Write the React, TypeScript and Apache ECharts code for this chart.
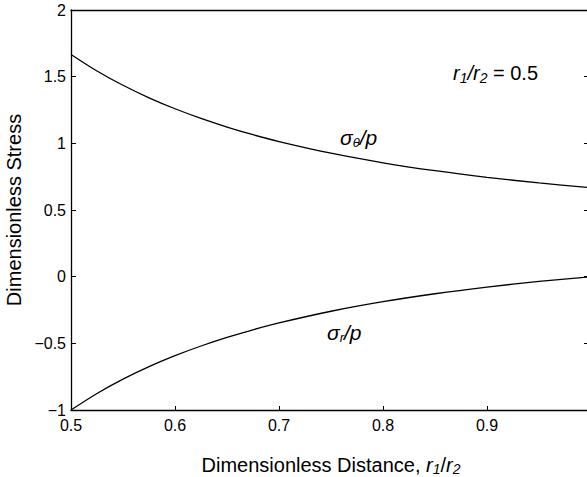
import React, { useEffect, useRef } from "react";
import * as echarts from "echarts";

const ratios = [0.5, 0.525, 0.55, 0.575, 0.6, 0.625, 0.65, 0.675, 0.7, 0.75, 0.8, 0.85, 0.9, 0.95, 1.0];
const hoopStress = [1.6667, 1.5427, 1.4353, 1.3415, 1.2593, 1.1867, 1.1223, 1.0649, 1.0136, 0.9259, 0.8542, 0.7947, 0.7449, 0.7027, 0.6667];
const radialStress = [-1.0, -0.876, -0.7686, -0.6749, -0.5926, -0.52, -0.4556, -0.3983, -0.3469, -0.2593, -0.1875, -0.128, -0.0782, -0.036, 0.0];
const yTickLabels: Record<string, string> = {
  "-1": "\u22121",
  "-0.5": "\u22120.5",
  "0": "0",
  "0.5": "0.5",
  "1": "1",
  "1.5": "1.5",
  "2": "2",
};
const xTickLabels: Record<string, string> = {
  "0.5": "0.5",
  "0.6": "0.6",
  "0.7": "0.7",
  "0.8": "0.8",
  "0.9": "0.9",
  "1": "",
};

const FONT = "Liberation Sans, Arial, Helvetica, sans-serif";

export default function App() {
  const ref = useRef<HTMLDivElement>(null);
  useEffect(() => {
    if (!ref.current) return;
    const chart = echarts.init(ref.current, undefined, { renderer: "svg" });
    const axisLine = { show: true, onZero: false, lineStyle: { color: "#000", width: 1.3 } };
    const lineSeries = (name: string, vals: number[]) => ({
      name,
      type: "line",
      data: ratios.map((r, i) => [r, vals[i]]),
      smooth: 0.3,
      showSymbol: false,
      lineStyle: { color: "#000", width: 1.3 },
      z: 3,
    });
    chart.setOption({
      animation: false,
      backgroundColor: "#fff",
      textStyle: { fontFamily: FONT },
      grid: { left: 71, top: 10, width: 520, height: 400, containLabel: false, outerBoundsMode: "none" },
      xAxis: [
        {
          type: "value",
          min: 0.5,
          max: 1.0,
          interval: 0.1,
          position: "bottom",
          axisLine,
          axisTick: { show: true, inside: true, length: 4, lineStyle: { color: "#000", width: 1 } },
          splitLine: { show: false },
          axisLabel: {
            color: "#000",
            fontSize: 16,
            fontFamily: FONT,
            margin: 7,
            formatter: (v: number) => xTickLabels[String(Math.round(v * 10) / 10)] ?? "",
          },
          name: "{n|Dimensionless Distance, }{i|r}{s|1}{n|/}{i|r}{s|2}",
          nameLocation: "middle",
          nameGap: 43,
          nameTextStyle: {
            rich: {
              n: { fontSize: 20, color: "#000", fontFamily: FONT },
              i: { fontSize: 20, color: "#000", fontStyle: "italic", fontFamily: FONT },
              s: { fontSize: 14, color: "#000", fontStyle: "italic", fontFamily: FONT, padding: [9, 0, 0, 0] },
            },
          },
        },
        {
          type: "value",
          min: 0.5,
          max: 1.0,
          interval: 0.1,
          position: "top",
          axisLine,
          axisTick: { show: false },
          axisLabel: { show: false },
          splitLine: { show: false },
        },
      ],
      yAxis: [
        {
          type: "value",
          min: -1,
          max: 2,
          interval: 0.5,
          position: "left",
          axisLine,
          axisTick: { show: true, inside: true, length: 5, lineStyle: { color: "#000", width: 1 } },
          splitLine: { show: false },
          axisLabel: {
            color: "#000",
            fontSize: 16,
            fontFamily: FONT,
            margin: 5,
            formatter: (v: number) => yTickLabels[String(v)] ?? String(v),
          },
          name: "Dimensionless Stress",
          nameLocation: "middle",
          nameGap: 41,
          nameRotate: 90,
          nameTextStyle: { fontSize: 20, color: "#000", fontFamily: FONT },
        },
        {
          type: "value",
          min: -1,
          max: 2,
          interval: 0.5,
          position: "right",
          axisLine,
          axisTick: { show: true, inside: true, length: 7, lineStyle: { color: "#000", width: 1 } },
          axisLabel: { show: false },
          splitLine: { show: false },
        },
      ],
      series: [lineSeries("sigma_theta", hoopStress), lineSeries("sigma_r", radialStress)],
      graphic: [
        {
          type: "text",
          left: 453,
          top: 63,
          style: {
            text: "{i|r}{s|1}{i|/r}{s|2}{n| = 0.5}",
            rich: {
              n: { fontSize: 20, fill: "#000", fontFamily: FONT },
              i: { fontSize: 20, fill: "#000", fontStyle: "italic", fontFamily: FONT },
              s: { fontSize: 14, fill: "#000", fontStyle: "italic", fontFamily: FONT, padding: [9, 0, 0, 0] },
            },
          },
        },
        {
          type: "text",
          left: 340,
          top: 127,
          style: {
            text: "{i|\u03c3}{s|\u03b8}{i|/p}",
            rich: {
              i: { fontSize: 21, fill: "#000", fontStyle: "italic", fontFamily: FONT },
              s: { fontSize: 13, fill: "#000", fontStyle: "italic", fontFamily: FONT, padding: [10, 0, 0, 0] },
            },
          },
        },
        {
          type: "text",
          left: 327,
          top: 322,
          style: {
            text: "{i|\u03c3}{s|r}{i|/p}",
            rich: {
              i: { fontSize: 21, fill: "#000", fontStyle: "italic", fontFamily: FONT },
              s: { fontSize: 13, fill: "#000", fontStyle: "italic", fontFamily: FONT, padding: [10, 0, 0, 0] },
            },
          },
        },
      ],
    });
    return () => chart.dispose();
  }, []);
  return (
    <div
      ref={ref}
      style={{ position: "fixed", left: 0, top: 0, width: 587, height: 477, overflow: "hidden" }}
    />
  );
}
